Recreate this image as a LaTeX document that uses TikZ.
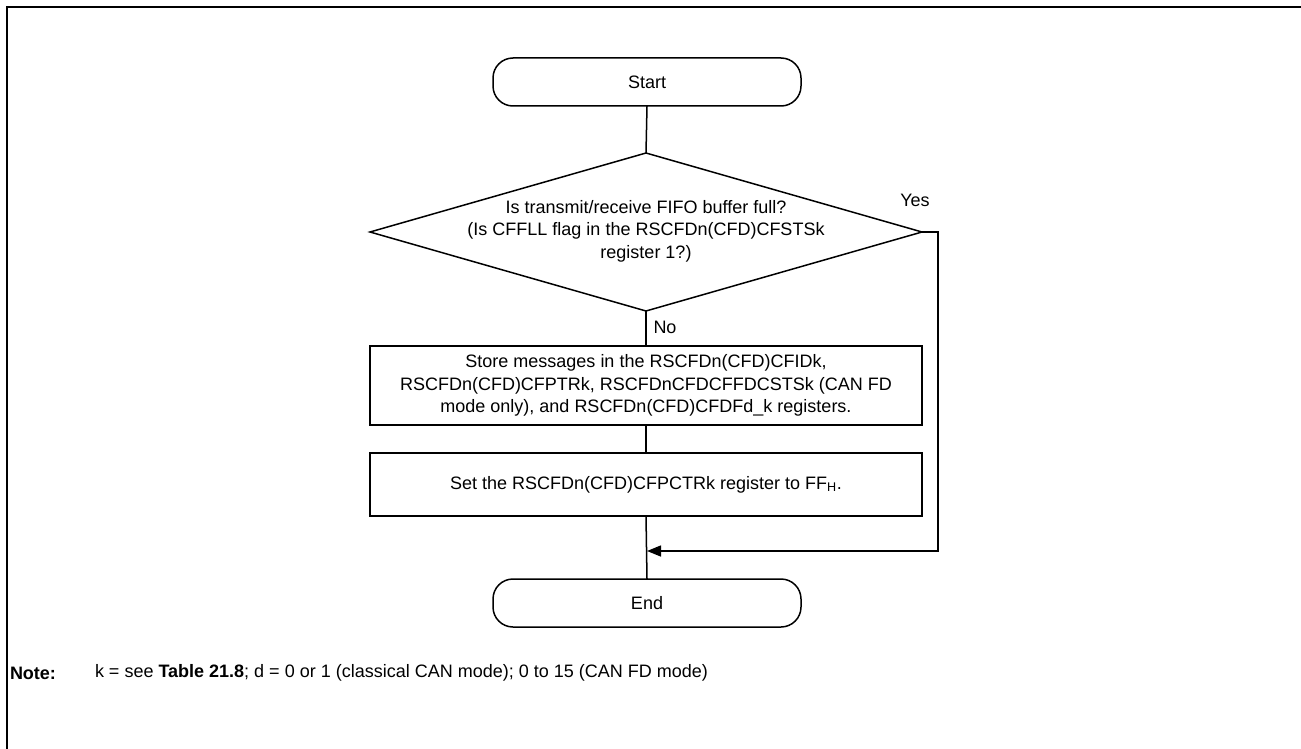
\documentclass[tikz,border=0pt]{standalone}
\usepackage{fontspec}
\setmainfont{Liberation Sans}
\usetikzlibrary{shapes.geometric,arrows.meta}
\begin{document}
\begin{tikzpicture}[x=1pt,y=-1pt,
  every node/.style={font=\fontsize{18}{22.5}\selectfont, inner sep=0pt, outer sep=0pt},
  conn/.style={line width=1.5pt},
  term/.style={draw, line width=1.5pt, rectangle, rounded corners=20pt, minimum width=308pt, minimum height=48pt},
  procbox/.style={draw, line width=1.5pt, rectangle, minimum width=552pt, align=center},
  decision/.style={draw, line width=1.5pt, diamond, aspect=3.49, minimum width=552pt, minimum height=158pt},
  arr/.style={conn, -{Triangle[length=14pt,width=11pt]}}
]
\useasboundingbox (0,0) rectangle (1301,749);
% frame (top and left)
\draw[line width=2pt] (7,749) -- (7,7) -- (1301,7);

\node[term] (start) at (647,82) {Start};
\node[decision] (dec) at (646,232) {};
\node[align=center] (dectext) at (646,231) {Is transmit/receive FIFO buffer full?\\(Is CFFLL flag in the RSCFDn(CFD)CFSTSk\\register 1?)};
\node[procbox, minimum height=79pt] (store) at (646,385.5) {Store messages in the RSCFDn(CFD)CFIDk,\\RSCFDn(CFD)CFPTRk, RSCFDnCFDCFFDCSTSk (CAN FD\\mode only), and RSCFDn(CFD)CFDFd\_k registers.};
\node[procbox, minimum height=63pt] (set) at (646,484.5) {Set the RSCFDn(CFD)CFPCTRk register to FF\textsubscript{H}.};
\node[term] (end) at (647,603) {End};

\coordinate (c1) at (938,232);
\coordinate (c2) at (938,551);
\coordinate (join) at (647,551);

\node (yes) at (915,200) {Yes};
\node (no) at (665,327) {No};

\draw[conn] (start.south) -- (dec.north);
\draw[conn] (dec.south) -- (store.north);
\draw[conn] (store.south) -- (set.north);
\draw[conn] (set.south) -- (end.north);
\draw[arr] (dec.east) -- (c1) -- (c2) -- (join);

\node[anchor=west] (notelabel) at (10,673) {\textbf{Note:}};
\node[anchor=west] (notetext) at (95,673) {k = see \textbf{Table 21.8}; d = 0 or 1 (classical CAN mode); 0 to 15 (CAN FD mode)};
\end{tikzpicture}
\end{document}
